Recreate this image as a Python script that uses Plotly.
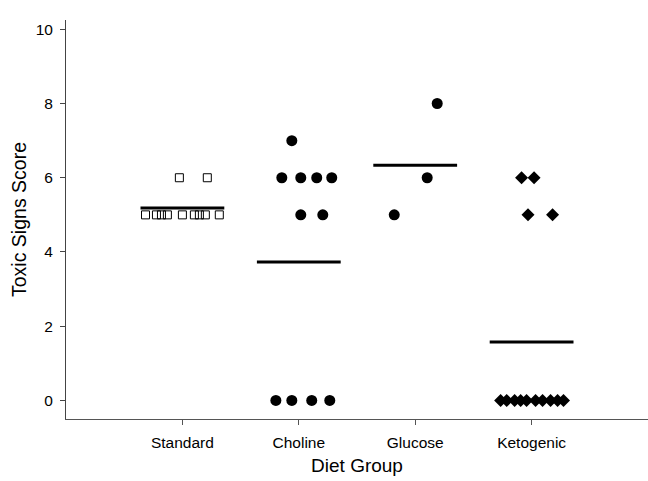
import plotly.graph_objects as go
import numpy as np

categories = ["Standard", "Choline", "Glucose", "Ketogenic"]

standard_scores = [5, 5, 5, 5, 5, 5, 5, 5, 5, 6, 6]
standard_jitter = [-0.317, -0.223, -0.180, -0.129, 0.0, 0.103, 0.146, 0.197, 0.317, -0.026, 0.214]

choline_scores = [7, 6, 6, 6, 6, 5, 5, 0, 0, 0, 0]
choline_jitter = [-0.06, -0.146, 0.017, 0.154, 0.283, 0.017, 0.206, -0.197, -0.06, 0.111, 0.266]

glucose_scores = [5, 6, 8]
glucose_jitter = [-0.18, 0.103, 0.189]

ketogenic_scores = [6, 6, 5, 5, 0, 0, 0, 0, 0, 0, 0, 0, 0, 0]
ketogenic_jitter = [-0.086, 0.021, -0.031, 0.18, -0.266, -0.214, -0.146, -0.094, -0.043,
                    0.034, 0.094, 0.163, 0.223, 0.274]

y_ticks = [0, 2, 4, 6, 8, 10]

groups = [
    (standard_scores, standard_jitter, dict(symbol="square-open", size=8, color="black",
                                            line=dict(width=1, color="black"))),
    (choline_scores, choline_jitter, dict(symbol="circle", size=11, color="black")),
    (glucose_scores, glucose_jitter, dict(symbol="circle", size=11, color="black")),
    (ketogenic_scores, ketogenic_jitter, dict(symbol="diamond", size=10, color="black")),
]

fig = go.Figure()
half = 0.36
for i, (scores, jit, mk) in enumerate(groups):
    pos = i + 1
    fig.add_trace(go.Scatter(
        x=[pos + j for j in jit], y=scores, mode="markers",
        marker=mk, showlegend=False, hoverinfo="y"))
    m = float(np.mean(scores))
    fig.add_trace(go.Scatter(
        x=[pos - half, pos + half], y=[m, m], mode="lines",
        line=dict(color="black", width=3), showlegend=False, hoverinfo="y"))

font_family = "Liberation Sans, Arial, sans-serif"
fig.update_layout(
    width=648, height=481,
    margin=dict(l=66, r=0, t=20, b=62),
    plot_bgcolor="white", paper_bgcolor="white",
    font=dict(family=font_family, color="black", size=15.5),
    xaxis=dict(
        range=[0, 5], tickmode="array", tickvals=[1, 2, 3, 4], ticktext=categories,
        showgrid=False, zeroline=False, showline=True, linecolor="#555", linewidth=1,
        ticks="outside", ticklen=5, tickcolor="#555", ticklabelstandoff=4,
        tickfont=dict(size=15.5),
        title=dict(text="Diet Group", font=dict(size=19), standoff=9),
    ),
    yaxis=dict(
        range=[-0.5, 10.25], tickmode="array", tickvals=y_ticks,
        showgrid=False, zeroline=False, showline=True, linecolor="#444", linewidth=1,
        ticks="outside", ticklen=5, tickcolor="#444", ticklabelstandoff=4,
        tickfont=dict(size=15.5),
        title=dict(text="Toxic Signs Score", font=dict(size=19.5), standoff=3),
    ),
)

fig.write_html("out.html", config={"displayModeBar": False},
               post_script="document.body.style.margin='0';document.body.style.overflow='hidden';")
